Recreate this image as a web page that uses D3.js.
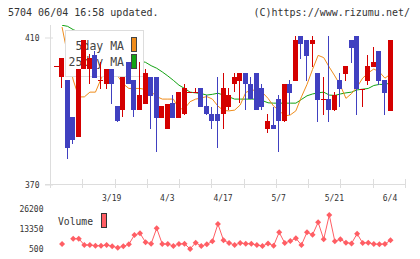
<!DOCTYPE html>
<html>
<head>
<meta charset="utf-8">
<script src="https://cdn.jsdelivr.net/npm/d3@7"></script>
<style>
  body { margin: 0; background: #fff; }
  svg { display: block; font-family: "DejaVu Sans Mono", monospace; }
</style>
</head>
<body>
<svg width="420" height="259"></svg>
<script>
// daily candles, one entry per trading day (oldest first)
const open  = [402.1,399.0,398.3,388.2,382.9,401.2,401.2,405.1,398.3,397.1,401.3,391.2,390.1,403.2,398.3,390.1,391.9,399.1,399.1,388.0,384.9,392.0,388.0,388.9,395.0,395.0,396.1,391.2,389.0,389.0,388.9,391.0,397.1,398.1,400.2,397.2,400.2,396.1,384.9,386.0,393.0,387.0,397.2,398.0,410.3,409.2,408.1,400.2,393.0,393.0,389.9,398.3,400.0,409.2,410.3,395.9,398.0,401.9,406.2,398.3,389.9];
const high  = [402.1,404.3,398.3,388.2,401.3,409.2,405.5,406.3,403.3,401.3,401.3,391.2,399.0,403.2,398.3,403.2,401.3,399.1,399.1,391.2,391.8,394.2,395.0,397.2,395.0,396.1,396.1,394.2,391.0,399.1,400.2,396.1,400.2,400.2,400.2,399.1,400.2,397.2,389.0,391.0,394.2,397.2,398.3,410.3,410.3,409.2,410.3,400.2,399.1,410.3,395.0,400.2,402.1,409.2,410.3,395.9,405.1,407.3,406.2,398.3,409.2];
const low   = [402.1,396.0,376.9,381.0,382.9,401.2,397.1,398.9,395.9,395.9,391.8,387.0,388.2,397.1,388.2,390.1,391.9,384.9,378.8,388.0,384.9,388.0,388.0,388.9,395.0,395.0,391.0,388.9,384.9,379.9,384.9,390.1,395.0,392.1,390.1,393.1,390.1,390.1,384.0,384.9,378.8,387.0,388.9,398.0,404.0,398.0,401.8,387.0,388.9,387.0,389.9,391.0,398.0,403.0,388.9,391.0,397.0,401.9,397.0,388.9,389.9];
const close = [402.1,404.3,379.9,381.9,401.3,409.2,404.3,398.9,398.3,401.3,397.1,387.0,399.0,397.1,390.1,394.2,400.2,394.0,388.0,391.2,391.8,388.0,395.0,396.1,395.0,395.0,391.0,388.9,387.0,387.0,396.1,394.2,399.1,400.2,397.1,393.1,390.1,391.0,387.1,384.9,387.1,397.2,394.8,409.2,408.1,404.9,409.2,392.9,393.0,389.9,394.1,395.9,402.1,407.0,395.9,395.9,402.1,403.2,398.0,394.8,409.2];
const ma5   = [null,412.7,405.1,398.3,393.7,393.7,395.0,395.0,398.6,401.6,401.0,399.4,397.2,396.0,396.0,396.0,395.7,395.1,393.8,393.1,393.1,393.1,390.4,390.5,392.4,393.1,393.4,393.8,393.1,391.2,390.0,389.9,390.1,391.5,394.9,395.6,395.4,394.9,393.3,391.2,390.0,388.5,388.8,389.9,393.7,397.1,401.2,405.0,404.4,401.8,399.4,396.8,393.3,394.6,396.4,398.8,400.2,401.3,400.5,398.8,399.9];
const ma25  = [null,413.2,412.9,412.0,411.4,410.5,409.7,408.9,408.1,407.4,406.7,406.0,405.4,404.7,404.0,403.5,403.1,402.2,401.5,400.5,399.4,398.2,396.9,396.0,395.0,394.8,394.6,394.2,394.4,394.7,394.2,393.7,393.1,393.1,393.1,393.1,393.1,392.7,392.1,392.0,392.0,392.0,392.0,392.0,393.0,394.0,394.5,394.8,395.0,394.2,394.1,394.5,394.8,395.0,395.6,395.8,396.0,396.8,397.1,397.1,397.5];
const volume = [null,3900,null,7300,7300,3260,3260,2800,2800,3260,2430,1530,2430,3700,9700,10800,5000,4100,14000,3900,3900,2600,3900,4100,700,4750,2600,3700,5640,16750,6300,4550,3260,4550,4100,4100,3260,2600,4300,2800,11400,4550,5830,7570,3260,11400,9880,17850,6930,22500,5640,6930,4750,4300,10500,4550,4750,3900,3700,3900,6300];

const tickSlots = [10, 20, 30, 40, 50, 60];
const tickLabels = ["3/19", "4/3", "4/17", "5/7", "5/21", "6/4"];
const priceTicks = [370, 410];
const volumeTicks = [500, 13350, 26200];

const svg = d3.select("svg");
const days = d3.range(open.length);

const x = d3.scaleLinear().domain([0, days.length - 1]).range([56.5, 390.5]);
const y = d3.scaleLinear().domain([370, 410]).range([184, 37]);
const yv = d3.scaleLinear().domain([500, 26200]).range([249.3, 209.3]);

// header
svg.append("text").attr("x", 8).attr("y", 16).attr("font-size", 10).attr("fill", "#333")
    .text("5704 06/04 16:58 updated.");
svg.append("text").attr("x", 410).attr("y", 16).attr("font-size", 10).attr("fill", "#333")
    .attr("text-anchor", "end").text("(C)https://www.rizumu.net/");

// frame lines
const gridColor = "#ddd";
svg.append("line").attr("x1", 50.5).attr("x2", 50.5).attr("y1", 25).attr("y2", 188)
    .attr("stroke", gridColor);
svg.append("line").attr("x1", 45).attr("x2", 405).attr("y1", 184.5).attr("y2", 184.5)
    .attr("stroke", gridColor);
const gx = d3.scaleLinear().domain([0, 11]).range([50, 405]);
svg.append("g").selectAll("line").data(d3.range(1, 12)).join("line")
    .attr("x1", d => Math.round(gx(d)) + 0.5).attr("x2", d => Math.round(gx(d)) + 0.5)
    .attr("y1", 179).attr("y2", 188).attr("stroke", gridColor);

// price axis
const yAxis = svg.append("g").attr("transform", "translate(53,0.5)")
    .call(d3.axisLeft(y).tickValues(priceTicks).tickSize(8).tickPadding(5.5));
yAxis.select(".domain").remove();
yAxis.selectAll("line").attr("stroke", gridColor);
yAxis.selectAll("text").attr("font-family", "DejaVu Sans Mono").attr("font-size", 8).attr("fill", "#333");

// date labels
const xAxis = svg.append("g").attr("transform", "translate(-1,184)")
    .call(d3.axisBottom(x).tickValues(tickSlots).tickFormat((d, i) => tickLabels[i])
        .tickSize(0).tickPadding(11));
xAxis.select(".domain").remove();
xAxis.selectAll("text").attr("font-family", "DejaVu Sans Mono").attr("font-size", 8).attr("fill", "#333");

// moving averages
svg.append("clipPath").attr("id", "plot").append("rect")
    .attr("x", 51).attr("y", 25).attr("width", 354).attr("height", 159);
const maLine = arr => d3.line().defined(i => arr[i] != null)
    .x(i => x(i)).y(i => y(arr[i]))(days);
svg.append("path").attr("d", maLine(ma25)).attr("fill", "none")
    .attr("stroke", "#13a313").attr("stroke-width", 1).attr("clip-path", "url(#plot)");
svg.append("path").attr("d", maLine(ma5)).attr("fill", "none")
    .attr("stroke", "#ef8c1b").attr("stroke-width", 1).attr("clip-path", "url(#plot)");

// legend (under the candles)
const lg = svg.append("g");
lg.append("rect").attr("x", 65.5).attr("y", 30.5).attr("width", 78).attr("height", 46)
    .attr("fill", "#fff").attr("stroke", gridColor);
lg.append("text").attr("x", 124).attr("y", 50).attr("text-anchor", "end")
    .attr("font-size", 11.5).attr("fill", "#444").text("5day MA");
lg.append("text").attr("x", 124).attr("y", 66.3).attr("text-anchor", "end")
    .attr("font-size", 11.5).attr("fill", "#444").text("25day MA");
lg.append("rect").attr("x", 131.5).attr("y", 37.5).attr("width", 5).attr("height", 14)
    .attr("fill", "#ef8c1b").attr("stroke", "#444");
lg.append("rect").attr("x", 131.5).attr("y", 54.5).attr("width", 5).attr("height", 14)
    .attr("fill", "#13a313").attr("stroke", "#444");

// candles
const up = "#d40000", down = "#4040c0";
const candle = svg.append("g").selectAll("g").data(days).join("g");
candle.append("line")
    .attr("x1", i => Math.floor(x(i) - 2.5) + 2.5).attr("x2", i => Math.floor(x(i) - 2.5) + 2.5)
    .attr("y1", i => Math.round(y(high[i]))).attr("y2", i => Math.round(y(low[i])))
    .attr("stroke", i => close[i] >= open[i] ? up : down);
candle.append("rect")
    .attr("x", i => Math.floor(x(i) - 2.5))
    .attr("y", i => Math.round(y(Math.max(open[i], close[i]))))
    .attr("width", 5)
    .attr("height", i => Math.max(1, Math.round(Math.abs(y(open[i]) - y(close[i])))))
    .attr("fill", i => close[i] >= open[i] ? up : down);

// volume
const volColor = "#ff5e64";
const vAxis = svg.append("g").attr("transform", "translate(43.5,0)")
    .call(d3.axisLeft(yv).tickValues(volumeTicks).tickFormat(d3.format("d"))
        .tickSize(0).tickPadding(0));
vAxis.select(".domain").remove();
vAxis.selectAll("text").attr("font-family", "DejaVu Sans Mono").attr("font-size", 8).attr("fill", "#333");

svg.append("text").attr("x", 58).attr("y", 225).attr("font-size", 9.7).attr("fill", "#333").text("Volume");
svg.append("rect").attr("x", 101.5).attr("y", 213.5).attr("width", 5).attr("height", 14)
    .attr("fill", volColor).attr("stroke", "#333");

svg.append("path")
    .attr("d", d3.line().defined(i => volume[i] != null).x(i => x(i)).y(i => yv(volume[i]))(days))
    .attr("fill", "none").attr("stroke", volColor).attr("stroke-width", 1);
svg.append("g").selectAll("path").data(days.filter(i => volume[i] != null)).join("path")
    .attr("d", d3.symbol(d3.symbolSquare, 18))
    .attr("transform", i => `translate(${x(i)},${yv(volume[i])}) rotate(45)`)
    .attr("fill", volColor);
</script>
</body>
</html>
